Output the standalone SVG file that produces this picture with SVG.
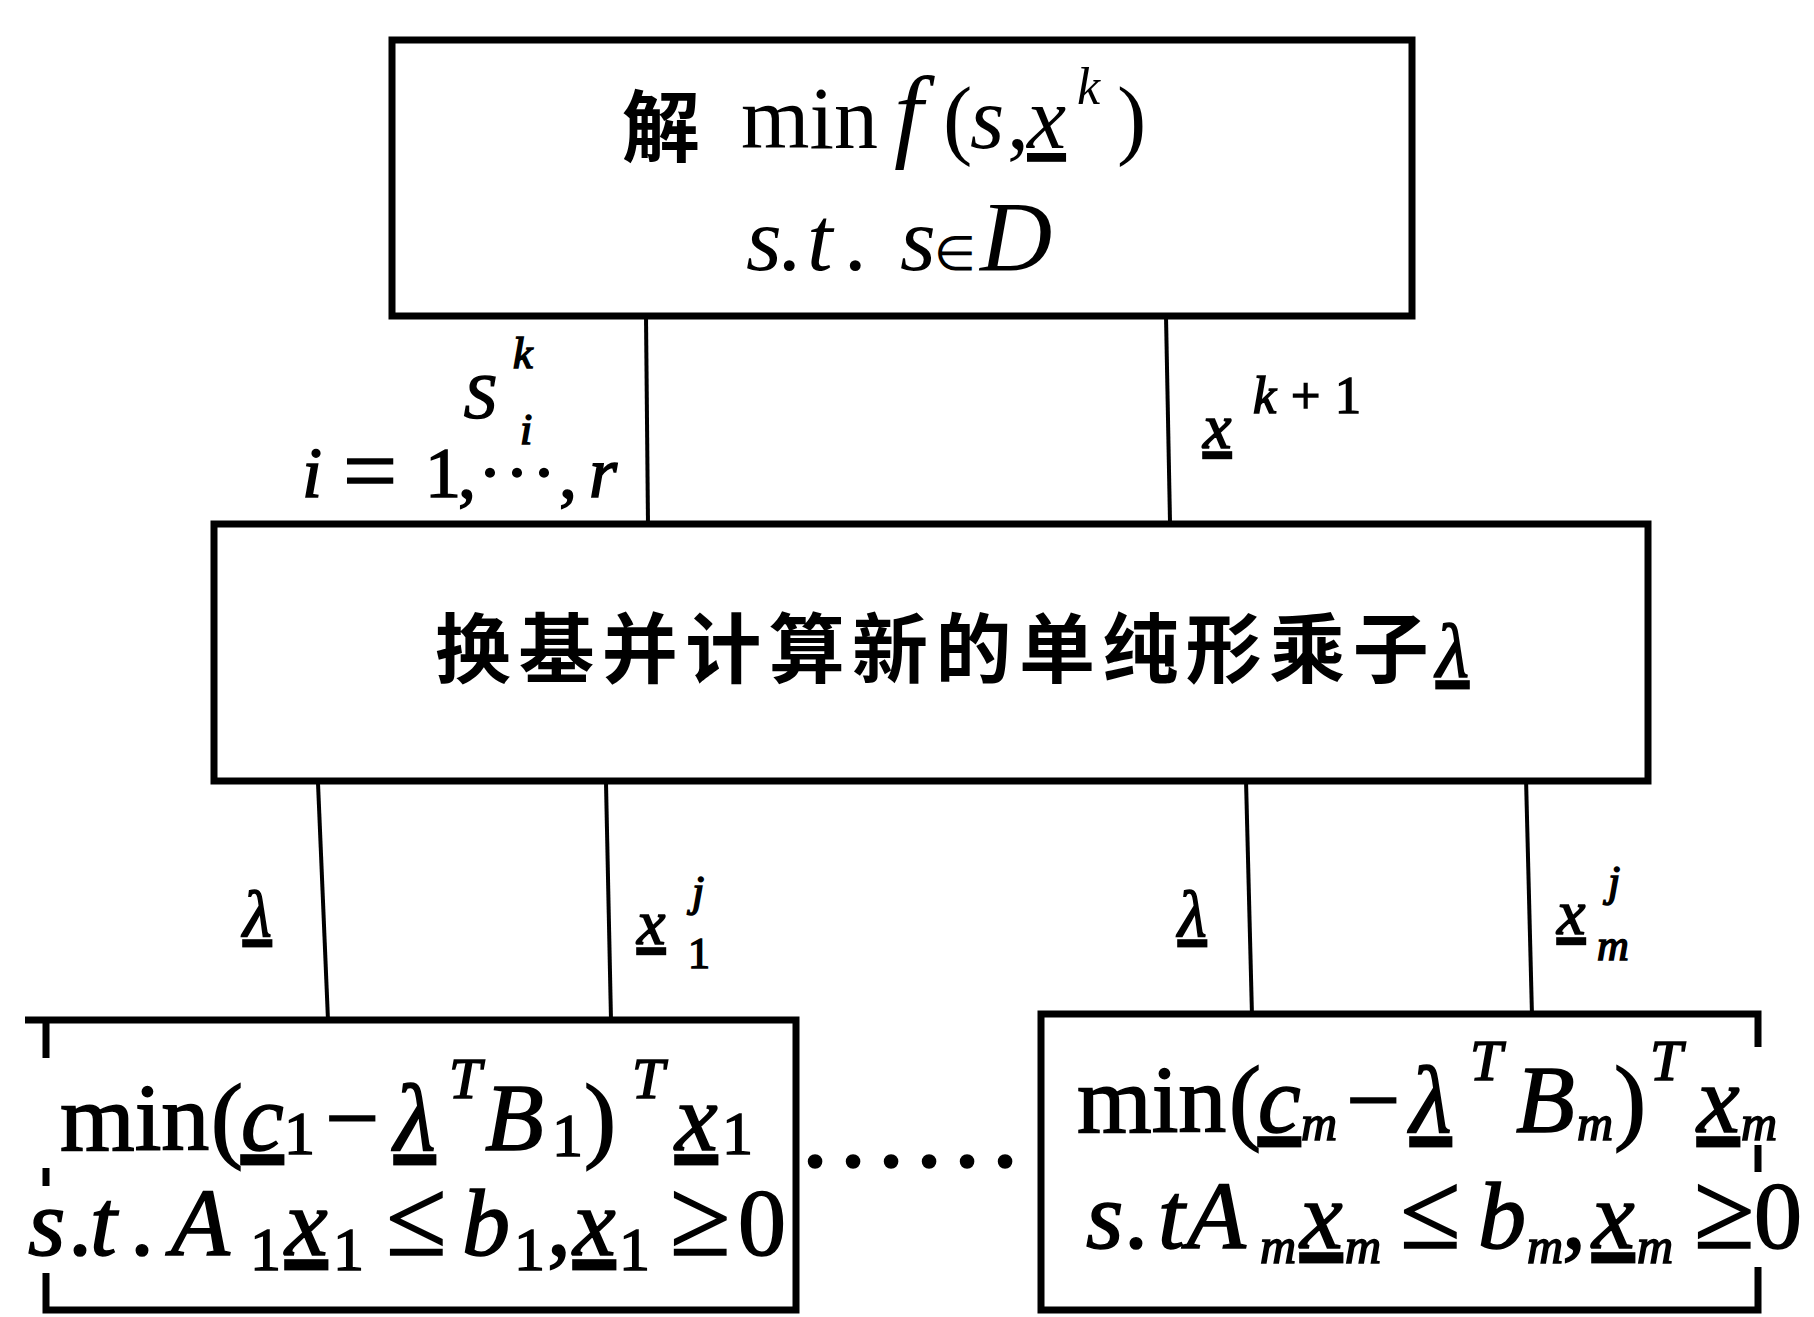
<svg xmlns="http://www.w3.org/2000/svg" width="1814" height="1317" viewBox="0 0 1814 1317">
<style>
.box{fill:none;stroke:#000;stroke-width:7}
.ln{stroke:#000;stroke-width:4;fill:none}
.t{font-family:"Liberation Serif","Times New Roman",serif;fill:#000}
.h{stroke:#000;stroke-width:1.6}
.i{font-style:italic}
.u{text-decoration:underline}
.cjk{font-family:"Noto Sans CJK SC","Noto Sans CJK TC",sans-serif;font-weight:700;fill:#000}
</style>
<rect width="1814" height="1317" fill="#fff"/>
<g id="connectors">
<line class="ln" x1="646" y1="316" x2="648" y2="525"/>
<line class="ln" x1="1166" y1="316" x2="1170" y2="522"/>
<line class="ln" x1="318" y1="783" x2="328" y2="1020"/>
<line class="ln" x1="606" y1="783" x2="611" y2="1020"/>
<line class="ln" x1="1246" y1="780" x2="1252" y2="1016"/>
<line class="ln" x1="1526" y1="778" x2="1532" y2="1016"/>
<text class="t i h" x="464" y="418" font-size="64">S</text>
<text class="t i h" x="513" y="368" font-size="44">k</text>
<text class="t i h" x="520" y="444" font-size="44">i</text>
<text class="t h" y="497" font-size="72"><tspan x="302" class="i">i</tspan><tspan x="343" font-size="96" y="503">=</tspan><tspan x="425" y="497">1</tspan><tspan x="458">,</tspan><tspan x="478">·</tspan><tspan x="505">·</tspan><tspan x="532">·</tspan><tspan x="559">,</tspan><tspan x="589" class="i">r</tspan></text>
<text class="t i h" x="1203" y="448" font-size="64"><tspan class="u">x</tspan></text>
<text class="t h" y="413" font-size="52"><tspan x="1253" class="i">k</tspan><tspan x="1291">+</tspan><tspan x="1335">1</tspan></text>
<text class="t i h" x="243" y="936" font-size="66"><tspan class="u">λ</tspan></text>
<text class="t i h" x="637" y="944" font-size="64"><tspan class="u">x</tspan></text>
<text class="t i h" x="692" y="906" font-size="44">j</text>
<text class="t h" x="688" y="968" font-size="44">1</text>
<text class="t i h" x="1178" y="936" font-size="66"><tspan class="u">λ</tspan></text>
<text class="t i h" x="1557" y="934" font-size="64"><tspan class="u">x</tspan></text>
<text class="t i h" x="1608" y="896" font-size="44">j</text>
<text class="t i h" x="1597" y="960" font-size="44">m</text>
</g>
<g id="node-top">
<rect class="box" x="392" y="40" width="1020" height="276"/>
<text class="cjk" x="622" y="156" font-size="78">解</text>
<text class="t" y="148" font-size="88"><tspan x="741">min</tspan><tspan x="894" class="i" font-size="104">f</tspan><tspan x="943">(</tspan><tspan x="970" class="i">s</tspan><tspan x="1007">,</tspan><tspan x="1027" class="i u">x</tspan><tspan x="1077" y="104" font-size="52" class="i">k</tspan><tspan x="1117" y="148">)</tspan></text>
<text class="t i" y="270" font-size="92"><tspan x="746">s</tspan><tspan x="780">.</tspan><tspan x="807">t</tspan><tspan x="846">.</tspan><tspan x="900">s</tspan><tspan x="934" font-size="48" font-style="normal">∈</tspan><tspan x="980" font-size="100">D</tspan></text>
</g>
<g id="node-middle">
<rect class="box" x="214" y="524" width="1434" height="257"/>
<text class="cjk" x="435" y="677" font-size="76" textLength="1034" lengthAdjust="spacing">换基并计算新的单纯形乘子<tspan class="t i u h" font-weight="400">λ</tspan></text>
</g>
<g id="node-bottom-left">
<path class="box" d="M25,1020 H796 V1310 H46 V1273 M46,1020 V1058 M46,1168 V1186"/>
<text class="t h" y="1150" font-size="96"><tspan x="60">min</tspan><tspan x="211">(</tspan><tspan x="241" class="i u">c</tspan><tspan x="284" y="1154" font-size="62">1</tspan><tspan x="325" y="1150">−</tspan><tspan x="394" class="i u">λ</tspan><tspan x="449" y="1098" font-size="58" class="i">T</tspan><tspan x="485" y="1150" class="i">B</tspan><tspan x="552" y="1156" font-size="62">1</tspan><tspan x="584" y="1150">)</tspan><tspan x="632" y="1098" font-size="58" class="i">T</tspan><tspan x="675" y="1150" class="i u">x</tspan><tspan x="722" y="1154" font-size="62">1</tspan></text>
<text class="t h" y="1255" font-size="96"><tspan x="28" class="i">s</tspan><tspan x="68">.</tspan><tspan x="90" class="i">t</tspan><tspan x="130">.</tspan><tspan x="171" class="i">A</tspan><tspan x="250" y="1270" font-size="62">1</tspan><tspan x="285" y="1255" class="i u">x</tspan><tspan x="333" y="1270" font-size="62">1</tspan><tspan x="386" y="1255" font-size="110">≤</tspan><tspan x="462" class="i">b</tspan><tspan x="514" y="1270" font-size="62">1</tspan><tspan x="547" y="1255">,</tspan><tspan x="573" class="i u">x</tspan><tspan x="619" y="1270" font-size="62">1</tspan><tspan x="670" y="1255" font-size="110">≥</tspan><tspan x="738">0</tspan></text>
</g>
<g id="ellipsis">
<text class="t h" y="1198" font-size="110" text-anchor="middle" x="815 853 891 929 967 1005">······</text>
</g>
<g id="node-bottom-right">
<path class="box" d="M1758,1047 V1014 H1041 V1310 H1758 V1267 M1758,1145 V1172"/>
<text class="t h" y="1132" font-size="96"><tspan x="1077">min</tspan><tspan x="1229">(</tspan><tspan x="1258" class="i u">c</tspan><tspan x="1301" y="1140" font-size="50" class="i">m</tspan><tspan x="1346" y="1132">−</tspan><tspan x="1410" class="i u">λ</tspan><tspan x="1470" y="1080" font-size="58" class="i">T</tspan><tspan x="1516" y="1132" class="i">B</tspan><tspan x="1577" y="1140" font-size="50" class="i">m</tspan><tspan x="1614" y="1132">)</tspan><tspan x="1650" y="1080" font-size="58" class="i">T</tspan><tspan x="1697" y="1132" class="i u">x</tspan><tspan x="1741" y="1140" font-size="50" class="i">m</tspan></text>
<text class="t h" y="1248" font-size="96"><tspan x="1086" class="i">s</tspan><tspan x="1124">.</tspan><tspan x="1158" class="i">t</tspan><tspan x="1187" class="i">A</tspan><tspan x="1260" y="1263" font-size="50" class="i">m</tspan><tspan x="1300" y="1248" class="i u">x</tspan><tspan x="1345" y="1263" font-size="50" class="i">m</tspan><tspan x="1400" y="1248" font-size="110">≤</tspan><tspan x="1478" class="i">b</tspan><tspan x="1527" y="1263" font-size="50" class="i">m</tspan><tspan x="1562" y="1248">,</tspan><tspan x="1592" class="i u">x</tspan><tspan x="1637" y="1263" font-size="50" class="i">m</tspan><tspan x="1694" y="1248" font-size="110">≥</tspan><tspan x="1754">0</tspan></text>
</g>
</svg>
